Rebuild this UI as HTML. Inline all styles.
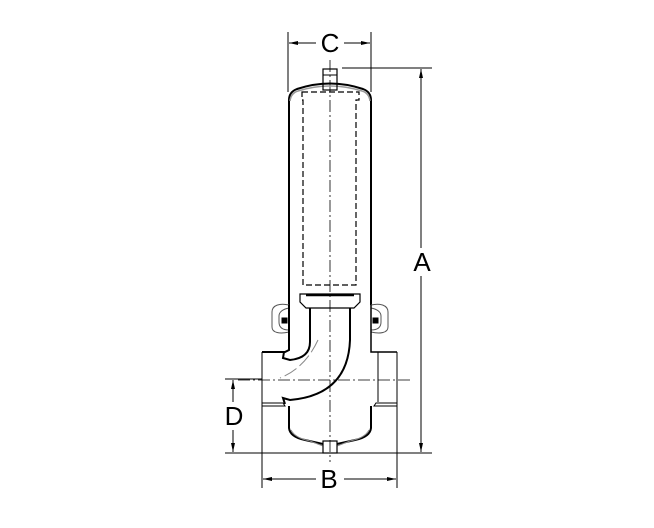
<!DOCTYPE html>
<html><head><style>html,body{margin:0;padding:0;background:#fff;}svg{display:block}</style></head>
<body>
<svg width="654" height="528" viewBox="0 0 654 528" xmlns="http://www.w3.org/2000/svg" font-family="Liberation Sans, sans-serif">
<g fill="none" stroke="#000" stroke-width="1">
<line x1="288" y1="32" x2="288" y2="92"/>
<line x1="371" y1="32" x2="371" y2="92"/>
<line x1="289" y1="43" x2="316" y2="43"/>
<line x1="344" y1="43" x2="370" y2="43"/>
<line x1="342" y1="68" x2="432" y2="68"/>
<line x1="421" y1="69" x2="421" y2="248"/>
<line x1="421" y1="276" x2="421" y2="452"/>
<line x1="225" y1="453" x2="432" y2="453"/>
<line x1="225" y1="379" x2="262" y2="379"/>
<line x1="233" y1="380" x2="233" y2="402"/>
<line x1="233" y1="430" x2="233" y2="452"/>
<line x1="262" y1="352" x2="262" y2="488"/>
<line x1="397" y1="352" x2="397" y2="488"/>
<line x1="263" y1="479" x2="316" y2="479"/>
<line x1="344" y1="479" x2="396" y2="479"/>
<line x1="330" y1="60" x2="330" y2="462" stroke-dasharray="12,3,2,3" stroke-width="0.8"/>
<line x1="238" y1="380" x2="412" y2="380" stroke-dasharray="12,3,2,3" stroke-width="0.8"/>
<path d="M289 305 L289 100 Q289 92 297 89 Q330 78 363 89 Q371 92 371 100 L371 305" stroke-width="2"/>
<path d="M290 101 Q291 93 298 91 Q330 81 362 91 Q369 93 370 101" stroke="#999" stroke-width="1.5"/>
<rect x="323" y="69" width="14" height="21" stroke-width="1.2"/>
<line x1="323" y1="75" x2="337" y2="75"/>
<g stroke-dasharray="6,3" stroke-width="1.2">
<path d="M302 92 H359 V100 H356 V285 H303 V100 H302 Z"/>
</g>
<path d="M300 294 H360 V302 L354 308 H306 L300 302 Z" stroke-width="1.2"/>
<line x1="306" y1="295" x2="354" y2="295" stroke-width="2.5"/>
<path d="M289 305 C280 303 272 305 272 312 V327 C272 333 280 334 289 332" stroke="#555"/>
<path d="M289 308 C283 309 279 312 279 316 V322 C279 328 283 330 289 330" stroke="#555"/>
<rect x="282" y="318" width="5" height="5" fill="#000"/>
<path d="M371 305 C380 303 388 305 388 312 V327 C388 333 380 334 371 332" stroke="#555"/>
<path d="M371 308 C377 309 381 312 381 316 V322 C381 328 377 330 371 330" stroke="#555"/>
<rect x="373" y="318" width="5" height="5" fill="#000"/>
<path d="M289 305 V350 L285 352 H262" stroke-width="2"/>
<path d="M371 305 V352 H397" stroke-width="1.5"/>
<path d="M262 403 H283 L285 406 H262" />
<path d="M397 403 H376 L374 406 H397" />
<path d="M378 352 V402"/>
<path d="M310 308 V342 Q310 358 290 360 L283 358 L284 352" stroke-width="2"/>
<path d="M350 308 V340 Q348 395 290 400 L283 398 L285 404" stroke-width="2"/>
<path d="M318 340 Q305 368 280 378" stroke="#888" stroke-dasharray="14,4" />
<path d="M289 406 V428 Q290 437 305 440 L323 444 M337 444 L355 440 Q370 437 371 428 V406" stroke-width="2"/>
<path d="M291 430 Q295 438 310 441 L323 446 M337 446 L350 441 Q365 438 369 430" stroke="#888"/>
<rect x="323" y="441" width="14" height="12" stroke-width="1.2"/>
</g>
<g fill="#000">
<polygon points="289,43 298,41 298,45"/>
<polygon points="370,43 361,41 361,45"/>
<polygon points="421,69 419,78 423,78"/>
<polygon points="421,452 419,443 423,443"/>
<polygon points="233,380 231,389 235,389"/>
<polygon points="233,452 231,443 235,443"/>
<polygon points="263,479 272,477 272,481"/>
<polygon points="396,479 387,477 387,481"/>
</g>
<g font-size="26" text-anchor="middle" fill="#000">
<text x="330" y="52">C</text>
<text x="422" y="271">A</text>
<text x="234" y="425">D</text>
<text x="329" y="488">B</text>
</g>
</svg>
</body></html>
